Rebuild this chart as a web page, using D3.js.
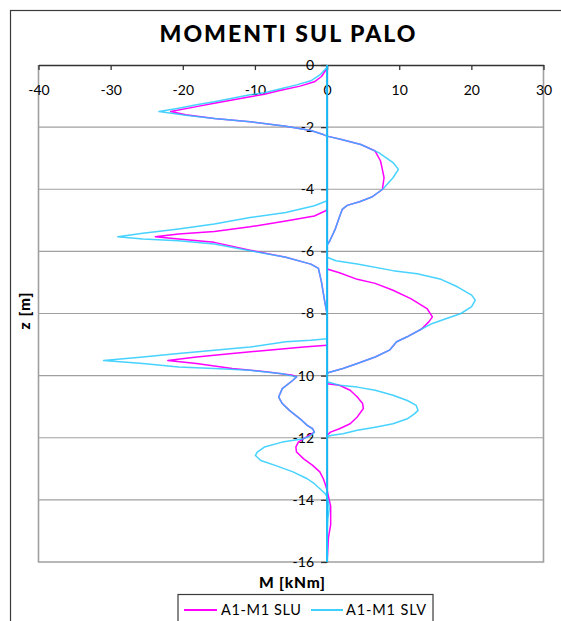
<!DOCTYPE html>
<html>
<head>
<meta charset="utf-8">
<script src="https://cdn.jsdelivr.net/npm/d3@7"></script>
<style>
  html, body { margin: 0; padding: 0; background: #fff; }
  svg { display: block; }
  text { font-family: Lato, "Liberation Sans", sans-serif; fill: #000; }
</style>
</head>
<body>
<svg id="chart" width="561" height="621"></svg>
<script>
// ---- data (M in kNm, z in m); null = break between branches ----
const xTicks = [-40, -30, -20, -10, 0, 10, 20, 30];
const zTicks = [0, -2, -4, -6, -8, -10, -12, -14, -16];
const seriesNames = ["A1-M1 SLU", "A1-M1 SLV"];

const sluPoints = [
  [0,-0.12],[-0.17,-0.16],[-0.77,-0.37],[-1.76,-0.54],[-3.74,-0.68],[-6.71,-0.83],[-8.69,-0.94],[-10.67,-1.02],
  [-13.15,-1.13],[-15.63,-1.23],[-18.1,-1.34],[-21.67,-1.5],[-19.6,-1.6],[-15.63,-1.72],[-10.67,-1.83],
  [-5.72,-1.97],[-2.25,-2.11],[-0.52,-2.24],[0,-2.29],[2.0,-2.4],[4.68,-2.56],[6.67,-2.77],[7.41,-3.09],
  [7.7,-3.4],[7.9,-3.63],[7.7,-3.95],[7.7,-4.0],[6.2,-4.25],[4.5,-4.4],[2.8,-4.52],[2.1,-4.65],[1.7,-4.9],
  [1.1,-5.3],[0.4,-5.65],[0,-5.8],
  null,
  [0,-4.66],[-0.27,-4.7],[-1.76,-4.86],[-5.72,-5.02],[-10.67,-5.21],[-15.63,-5.36],[-20.58,-5.44],[-23.8,-5.53],
  [-20.58,-5.6],[-15.63,-5.71],[-10.67,-5.96],[-5.72,-6.19],[-2.25,-6.41],[-1.2,-6.55],[-0.78,-6.98],
  [-0.32,-7.62],[-0.1,-7.9],[0,-8.0],
  null,
  [0,-6.57],[1.71,-6.69],[4.19,-6.9],[6.67,-7.03],[9.14,-7.25],[11.6,-7.52],[13.85,-7.84],[14.6,-8.11],
  [14.1,-8.27],[13.1,-8.5],[11.1,-8.75],[9.64,-8.91],[8.65,-9.18],[6.67,-9.4],[4.19,-9.61],[2.2,-9.77],
  [0.23,-9.9],[0,-9.95],
  null,
  [0,-9.02],[-3.24,-9.08],[-8.2,-9.18],[-13.15,-9.29],[-18.1,-9.4],[-22.07,-9.51],[-18.1,-9.61],
  [-13.15,-9.77],[-8.2,-9.88],[-4.73,-9.99],[-4.23,-10.04],[-4.73,-10.15],[-6.21,-10.42],[-6.71,-10.69],
  [-6.21,-10.9],[-5.22,-11.12],[-3.74,-11.39],[-2.75,-11.6],[-2.0,-11.71],[-1.76,-11.82],[-3.24,-12.03],
  [-3.98,-12.14],[-4.33,-12.3],[-4.23,-12.46],[-3.24,-12.68],[-2.0,-12.89],[-1.01,-13.1],[-0.52,-13.32],
  [-0.27,-13.48],[0,-13.69],[0.3,-14.0],[0.5,-14.2],[0.5,-14.8],[0.2,-15.2],[0,-16],
  null,
  [0,-10.26],[1.71,-10.31],[3.2,-10.47],[4.19,-10.69],[4.93,-10.9],[5.03,-11.06],[4.68,-11.17],
  [4.19,-11.33],[3.2,-11.55],[1.71,-11.71],[0.47,-11.82],[0,-11.92]
];

const slvPoints = [
  [0,-0.08],[-0.17,-0.11],[-1.0,-0.32],[-2.25,-0.51],[-4.23,-0.64],[-6.71,-0.78],[-8.69,-0.89],[-10.67,-0.96],
  [-13.15,-1.07],[-15.63,-1.18],[-18.1,-1.28],[-20.58,-1.39],[-23.3,-1.5],[-19.6,-1.62],[-15.63,-1.72],
  [-10.67,-1.83],[-5.72,-1.97],[-2.25,-2.11],[-0.52,-2.24],[0,-2.29],[2.0,-2.4],[4.68,-2.56],[7.16,-2.82],
  [9.14,-3.14],[9.89,-3.36],[9.14,-3.63],[7.9,-3.95],[7.7,-4.0],[6.2,-4.25],[4.5,-4.4],[2.8,-4.52],
  [2.1,-4.65],[1.7,-4.9],[1.1,-5.3],[0.4,-5.65],[0,-5.8],
  null,
  [0,-4.37],[-1.76,-4.53],[-5.72,-4.75],[-10.67,-4.91],[-15.63,-5.12],[-20.58,-5.28],[-25.53,-5.42],
  [-29.0,-5.53],[-25.53,-5.6],[-20.58,-5.66],[-15.63,-5.76],[-10.67,-5.98],[-5.72,-6.19],[-2.25,-6.41],
  [-1.2,-6.55],[-0.78,-6.98],[-0.32,-7.62],[-0.1,-7.9],[0,-8.0],
  null,
  [0,-6.19],[1.22,-6.3],[4.19,-6.41],[9.14,-6.62],[12.5,-6.72],[15.8,-6.9],[18.06,-7.14],[20.04,-7.41],
  [20.54,-7.57],[20.04,-7.78],[18.56,-8.0],[16.57,-8.16],[14.6,-8.32],[13.1,-8.5],[11.1,-8.75],[9.64,-8.91],
  [8.65,-9.18],[6.67,-9.4],[4.19,-9.61],[2.2,-9.77],[0.23,-9.9],[0,-9.95],
  null,
  [0,-8.81],[-2.25,-8.86],[-5.72,-8.91],[-10.67,-9.08],[-15.63,-9.18],[-20.58,-9.29],[-25.53,-9.4],
  [-30.98,-9.51],[-25.53,-9.61],[-20.58,-9.72],[-15.63,-9.77],[-10.67,-9.83],[-6.21,-9.94],[-4.23,-10.04],
  [-4.73,-10.15],[-6.21,-10.42],[-6.71,-10.69],[-6.21,-10.9],[-5.22,-11.12],[-3.74,-11.39],[-2.75,-11.6],
  [-2.0,-11.71],[-1.76,-11.82],[-2.25,-11.93],[-3.24,-12.03],[-6.21,-12.14],[-8.69,-12.3],[-9.68,-12.46],
  [-9.93,-12.57],[-9.19,-12.73],[-7.2,-12.89],[-4.73,-13.1],[-2.75,-13.32],[-1.76,-13.48],[-0.77,-13.69],
  [-0.27,-13.8],[0,-13.9],[0.2,-14.07],[0.3,-14.3],[0.1,-14.6],[0,-15],[0,-16],
  null,
  [0,-10.2],[1.71,-10.31],[4.19,-10.37],[6.67,-10.47],[9.14,-10.63],[11.12,-10.8],[12.36,-10.96],
  [12.61,-11.12],[12.11,-11.23],[11.12,-11.39],[9.14,-11.55],[6.67,-11.66],[4.19,-11.76],[2.2,-11.87],
  [0.72,-11.92],[0,-11.96]
];

// SLV branch running along M = 0 over the whole pile
const slvZeroLine = [[0, 0], [0, -16]];

const seriesColors = ["#ff00ff", "#1ec8ff"];

// ---- layout ----
const svg = d3.select("#chart");
const plot = { left: 38.5, right: 543.5, top: 65, bottom: 562 };

const x = d3.scaleLinear().domain([-40, 30]).range([plot.left, plot.right]);
const y = d3.scaleLinear().domain([0, -16]).range([plot.top, plot.bottom]);

// outer chart frame
svg.append("rect")
  .attr("x", 10.5).attr("y", 10.5).attr("width", 620).attr("height", 700)
  .attr("fill", "none").attr("stroke", "#3a3a3a").attr("stroke-width", 1.2);

// title
svg.append("text")
  .attr("x", 287.5).attr("y", 42)
  .attr("text-anchor", "middle")
  .attr("font-weight", 900).attr("font-size", 23)
  .attr("textLength", 256).attr("lengthAdjust", "spacing")
  .text("MOMENTI SUL PALO");

// gridlines
svg.append("g").selectAll("line")
  .data(zTicks.filter(d => d < 0 && d > -16))
  .join("line")
  .attr("x1", plot.left).attr("x2", plot.right)
  .attr("y1", d => y(d)).attr("y2", d => y(d))
  .attr("stroke", "#a0a0a0").attr("stroke-width", 1.2);

// plot area border (left, right, bottom)
svg.append("path")
  .attr("d", `M${plot.left},${plot.top}V${plot.bottom}H${plot.right}V${plot.top}`)
  .attr("fill", "none").attr("stroke", "#a0a0a0").attr("stroke-width", 1.6);

// x axis at z = 0 (top), labels below
const xAxis = svg.append("g")
  .attr("transform", `translate(0,${y(0)})`)
  .call(d3.axisBottom(x).tickValues(xTicks).tickFormat(d => String(d))
    .tickSize(5).tickSizeOuter(0).tickPadding(15));
xAxis.select(".domain").attr("stroke", "#333").attr("stroke-width", 1.6);
xAxis.selectAll(".tick line").attr("stroke", "#333").attr("stroke-width", 1.3);
xAxis.selectAll(".tick text").attr("font-size", 14).attr("font-family", "Lato, 'Liberation Sans', sans-serif").attr("fill", "#000");

// y axis at M = 0
const yAxis = svg.append("g")
  .attr("transform", `translate(${x(0)},0)`)
  .call(d3.axisLeft(y).tickValues(zTicks).tickFormat(d => String(d))
    .tickSize(6).tickSizeOuter(0).tickPadding(7));
yAxis.select(".domain").attr("stroke", "#333");
yAxis.selectAll(".tick line").attr("stroke", "#333").attr("stroke-width", 1.3);
yAxis.selectAll(".tick text").attr("font-size", 14).attr("font-family", "Lato, 'Liberation Sans', sans-serif").attr("fill", "#000");

// series lines
const line = d3.line()
  .defined(d => d !== null)
  .x(d => x(d[0]))
  .y(d => y(d[1]));

svg.append("path")
  .datum(sluPoints)
  .attr("d", line)
  .attr("fill", "none").attr("stroke", seriesColors[0]).attr("stroke-width", 1.5)
  .attr("stroke-linejoin", "round");

svg.append("path")
  .datum(slvZeroLine)
  .attr("d", line)
  .attr("fill", "none").attr("stroke", "#16b6f6").attr("stroke-width", 2);

svg.append("path")
  .datum(slvPoints)
  .attr("d", line)
  .attr("fill", "none").attr("stroke", seriesColors[1]).attr("stroke-width", 1.5)
  .attr("stroke-opacity", 0.82)
  .attr("stroke-linejoin", "round");

// axis titles
svg.append("text")
  .attr("x", 292).attr("y", 588)
  .attr("text-anchor", "middle")
  .attr("font-weight", 900).attr("font-size", 15.5)
  .attr("textLength", 66).attr("lengthAdjust", "spacing")
  .text("M [kNm]");

svg.append("text")
  .attr("transform", "translate(30,311) rotate(-90)")
  .attr("text-anchor", "middle")
  .attr("font-weight", 900).attr("font-size", 15.5)
  .attr("textLength", 37).attr("lengthAdjust", "spacing")
  .text("z [m]");

// legend
const legend = svg.append("g");
legend.append("rect")
  .attr("x", 178).attr("y", 594.5).attr("width", 255).attr("height", 60)
  .attr("fill", "#fff").attr("stroke", "#3a3a3a").attr("stroke-width", 1.2);

const legendItems = [
  { x1: 184, x2: 217, tx: 221 },
  { x1: 311, x2: 343, tx: 346 }
];
legendItems.forEach((it, i) => {
  legend.append("line")
    .attr("x1", it.x1).attr("x2", it.x2).attr("y1", 610).attr("y2", 610)
    .attr("stroke", i === 1 ? "#40d0ff" : seriesColors[i]).attr("stroke-width", 2);
  legend.append("text")
    .attr("x", it.tx).attr("y", 615)
    .attr("font-size", 14.5)
    .attr("textLength", 80).attr("lengthAdjust", "spacing")
    .text(seriesNames[i]);
});
</script>
</body>
</html>
